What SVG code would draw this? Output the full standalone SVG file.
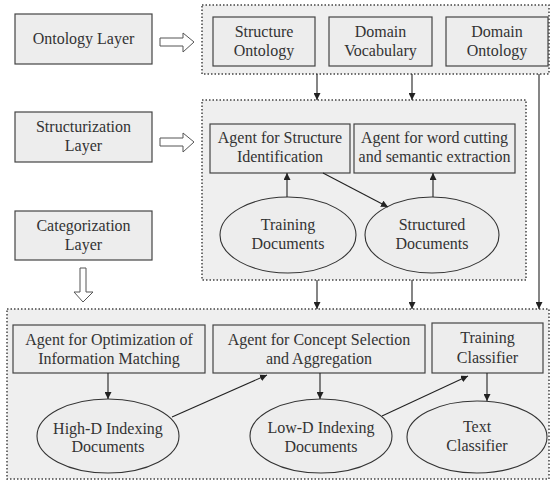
<svg xmlns="http://www.w3.org/2000/svg" width="551" height="485" viewBox="0 0 551 485" font-family="'Liberation Serif', 'Times New Roman', Times, serif" font-size="16">
<style>
.reg{fill:#efefef;stroke:#444;stroke-width:1.5;stroke-dasharray:1.5 2}
.box{fill:#ededed;stroke:#444;stroke-width:1.2}
.ell{fill:#ededed;stroke:#333;stroke-width:1.1}
.hol{fill:#fff;stroke:#555;stroke-width:1}
text{font-family:'Liberation Serif','Times New Roman',Times,serif;font-size:16px;fill:#333;text-anchor:middle}
.c line{stroke:#222;stroke-width:1.1}
</style>
<defs>
<marker id="ah" viewBox="0 0 8 8" refX="8" refY="4" markerWidth="7" markerHeight="7" markerUnits="userSpaceOnUse" orient="auto">
<path d="M0,0 L8,4 L0,8 z" fill="#222"/>
</marker>
</defs>
<rect width="551" height="485" fill="#fff"/>

<g id="regions">
<rect class="reg" x="202" y="5" width="347" height="69"/>
<rect class="reg" x="202" y="100" width="324" height="180"/>
<rect class="reg" x="7" y="309" width="542" height="170"/>
</g>

<g id="ontology-layer"><rect class="box" x="15" y="14" width="137" height="50"/><text x="83.5" y="44">Ontology Layer</text></g>
<g id="structurization-layer"><rect class="box" x="15" y="112" width="137" height="50"/><text x="83.5" y="132">Structurization</text><text x="83.5" y="151">Layer</text></g>
<g id="categorization-layer"><rect class="box" x="15" y="211" width="137" height="49"/><text x="83.5" y="231">Categorization</text><text x="83.5" y="250">Layer</text></g>

<g id="hollow-arrows">
<path class="hol" d="M160,38 L183,38 L183,33 L194,42 L183,52 L183,46 L160,46 z"/>
<path class="hol" d="M160,138 L183,138 L183,133 L194,142 L183,152 L183,146 L160,146 z"/>
<path class="hol" d="M80,268 L86,268 L86,292 L93,292 L83,302 L74,292 L80,292 z"/>
</g>

<g id="structure-ontology"><rect class="box" x="213" y="17" width="102" height="49"/><text x="264" y="37">Structure</text><text x="264" y="56">Ontology</text></g>
<g id="domain-vocabulary"><rect class="box" x="329" y="17" width="103" height="49"/><text x="380.5" y="37">Domain</text><text x="380.5" y="56">Vocabulary</text></g>
<g id="domain-ontology"><rect class="box" x="446" y="17" width="102" height="49"/><text x="497" y="37">Domain</text><text x="497" y="56">Ontology</text></g>

<g id="agent-structure"><rect class="box" x="210" y="124" width="140" height="49"/><text x="280" y="143">Agent for Structure</text><text x="280" y="162">Identification</text></g>
<g id="agent-word"><rect class="box" x="354" y="124" width="161" height="49"/><text x="434.5" y="143">Agent for word cutting</text><text x="434.5" y="162">and semantic extraction</text></g>
<g id="training-documents"><ellipse class="ell" cx="288" cy="235" rx="68" ry="38"/><text x="288" y="230">Training</text><text x="288" y="249">Documents</text></g>
<g id="structured-documents"><ellipse class="ell" cx="432" cy="235" rx="67" ry="38"/><text x="432" y="230">Structured</text><text x="432" y="249">Documents</text></g>

<g id="agent-optimization"><rect class="box" x="13" y="325" width="192" height="48"/><text x="109" y="345">Agent for Optimization of</text><text x="109" y="364">Information Matching</text></g>
<g id="agent-concept"><rect class="box" x="213" y="325" width="212" height="48"/><text x="319" y="345">Agent for Concept Selection</text><text x="319" y="364">and Aggregation</text></g>
<g id="training-classifier"><rect class="box" x="432" y="323" width="111" height="50"/><text x="487.5" y="343">Training</text><text x="487.5" y="363">Classifier</text></g>
<g id="high-d"><ellipse class="ell" cx="108" cy="436" rx="71" ry="37"/><text x="108" y="434">High-D Indexing</text><text x="108" y="452">Documents</text></g>
<g id="low-d"><ellipse class="ell" cx="321" cy="436" rx="71" ry="37"/><text x="321" y="433">Low-D Indexing</text><text x="321" y="452">Documents</text></g>
<g id="text-classifier"><ellipse class="ell" cx="477" cy="437" rx="70" ry="36"/><text x="477" y="432">Text</text><text x="477" y="451">Classifier</text></g>

<g id="connectors" class="c">
<line x1="317" y1="74" x2="317" y2="100" marker-end="url(#ah)"/>
<line x1="412" y1="74" x2="412" y2="100" marker-end="url(#ah)"/>
<line x1="317" y1="280" x2="317" y2="309" marker-end="url(#ah)"/>
<line x1="412" y1="280" x2="412" y2="309" marker-end="url(#ah)"/>
<line x1="539" y1="74" x2="539" y2="309" marker-end="url(#ah)"/>
<line x1="287" y1="197" x2="287" y2="173" marker-end="url(#ah)"/>
<line x1="433" y1="197" x2="433" y2="173" marker-end="url(#ah)"/>
<line x1="323" y1="173" x2="388" y2="207" marker-end="url(#ah)"/>
<line x1="108" y1="373" x2="108" y2="399" marker-end="url(#ah)"/>
<line x1="172" y1="417" x2="267" y2="375" marker-end="url(#ah)"/>
<line x1="320" y1="373" x2="320" y2="399" marker-end="url(#ah)"/>
<line x1="382" y1="416" x2="468" y2="376" marker-end="url(#ah)"/>
<line x1="487" y1="373" x2="487" y2="401" marker-end="url(#ah)"/>
</g>
</svg>
